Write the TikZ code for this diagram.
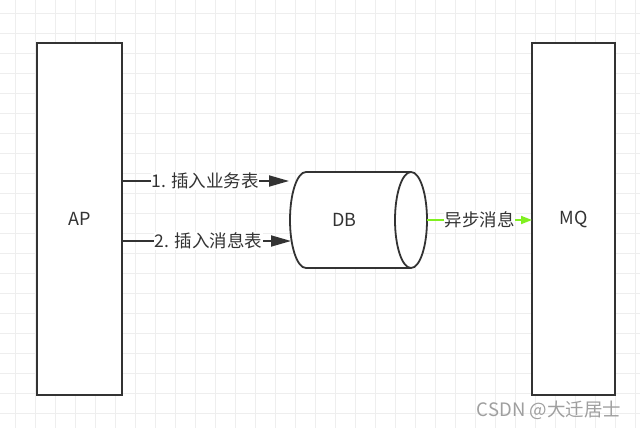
\documentclass[tikz,border=0pt]{standalone}
\usepackage{fontspec}
\setmainfont{Noto Sans CJK SC}
\usetikzlibrary{arrows.meta}
\definecolor{gridc}{HTML}{EEEEEE}
\definecolor{linec}{HTML}{333333}
\definecolor{greenc}{HTML}{80F020}
\tikzset{
  boxst/.style={draw=linec, line width=1.8pt, fill=white, inner sep=0pt},
  conn/.style={draw=linec, line width=1.8pt, -{Triangle[length=20pt,width=11pt]}},
  gconn/.style={draw=greenc, line width=1.8pt, -{Triangle[length=11pt,width=8pt]}},
  lbl/.style={fill=white, inner sep=0.5pt, font=\fontsize{17.5}{19}\selectfont, text=linec},
  bigt/.style={font=\fontsize{18}{20}\selectfont, text=linec},
}
\begin{document}
\begin{tikzpicture}[x=1pt,y=-1pt]
\useasboundingbox (0,0) rectangle (640,428);
\fill[white] (0,0) rectangle (640,428);
\foreach \x in {15,35,...,635} \draw[gridc, line width=0.8pt] (\x,0) -- (\x,428);
\foreach \y in {13,33,...,428} \draw[gridc, line width=0.8pt] (0,\y) -- (640,\y);
\node[boxst, minimum width=85pt, minimum height=352pt] (ap) at (79.5,219) {};
\node[bigt] (apt) at (ap.center) {AP};
\node[boxst, minimum width=83pt, minimum height=352pt] (mq) at (573.5,219) {};
\node[bigt] (mqt) at (mq.center) {MQ};
% cylinder
\node[minimum width=137pt, minimum height=96pt, inner sep=0pt] (db) at (358.5,220) {};
\draw[linec, line width=1.8pt, fill=white]
  (306,172) -- (411,172) arc[start angle=90, end angle=-90, x radius=16pt, y radius=48pt]
  -- (306,268) arc[start angle=270, end angle=90, x radius=16pt, y radius=48pt] -- cycle;
\draw[linec, line width=1.8pt]
  (411,172) arc[start angle=90, end angle=270, x radius=16pt, y radius=48pt];
\node[bigt] (dbt) at (344.5,220) {DB};
\coordinate (t1) at (289,181);
\coordinate (t2) at (291,241);
\coordinate (t3) at (532,220);
\draw[conn] (ap.east |- t1) -- node[lbl, pos=0.496] (l1) {1. 插入业务表} (t1);
\draw[conn] (ap.east |- t2) -- node[lbl, pos=0.51] (l2) {2. 插入消息表} (t2);
\draw[gconn] (db.east) -- node[lbl, pos=0.5] (l3) {异步消息} (t3);
\node[font=\fontsize{18.5}{20}\selectfont, text=gray!75] (wm) at (549,410) {CSDN @大迁居士};
\end{tikzpicture}
\end{document}
